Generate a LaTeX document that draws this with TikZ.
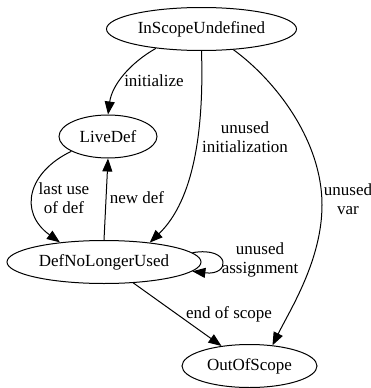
\documentclass[tikz,border=0pt]{standalone}
\usepackage{fontspec}
\setmainfont{Liberation Serif}
\usetikzlibrary{shapes.geometric,arrows.meta}

\begin{document}
\begin{tikzpicture}[x=1pt,y=-1pt,line width=1pt,
  font=\fontsize{17}{19}\selectfont,
  stnode/.style={draw,ellipse,inner sep=0pt,minimum height=43pt},
  lbl/.style={align=center,inner sep=0pt},
  >={Triangle[length=13pt,width=10pt]}]
\useasboundingbox (0,0) rectangle (371,388);
%\draw[help lines] (0,0) grid (371,388);
\node (isu) [stnode,minimum width=190pt] at (201.5,29) {InScopeUndefined};
\node (live) [stnode,minimum width=98pt] at (108,136.5) {LiveDef};
\node (dnlu) [stnode,minimum width=194pt] at (104,262) {DefNoLongerUsed};
\node (oos) [stnode,minimum width=135pt] at (249.5,366) {OutOfScope};

\node (l_init) [lbl] at (154,81) {initialize};
\node (l_uinit) [lbl] at (245,137) {unused\\initialization};
\node (l_uvar) [lbl] at (348,199) {unused\\var};
\node (l_last) [lbl] at (64,198) {last use\\of def};
\node (l_new) [lbl] at (137,198) {new def};
\node (l_uasg) [lbl] at (260,260) {unused\\assignment};
\node (l_end) [lbl] at (229,314) {end of scope};

\draw [->] (isu.203) .. controls (130,63) and (112,85) .. (live.north);
\draw [->] (isu.south) .. controls (204,130) and (194,200) .. (dnlu.23);
\draw [->] (isu.327) .. controls (275,80) and (322,140) .. (322,205)
  .. controls (322,260) and (290,310) .. (oos.42);
\draw [->] (live.202) .. controls (28,172) and (18,212) .. (dnlu.156);
\draw [->] (dnlu.north) -- (live.south);
\draw [->] (dnlu.6) .. controls (231,246) and (231,276) .. (dnlu.354);
\draw [->] (dnlu) -- (oos);
\end{tikzpicture}
\end{document}
